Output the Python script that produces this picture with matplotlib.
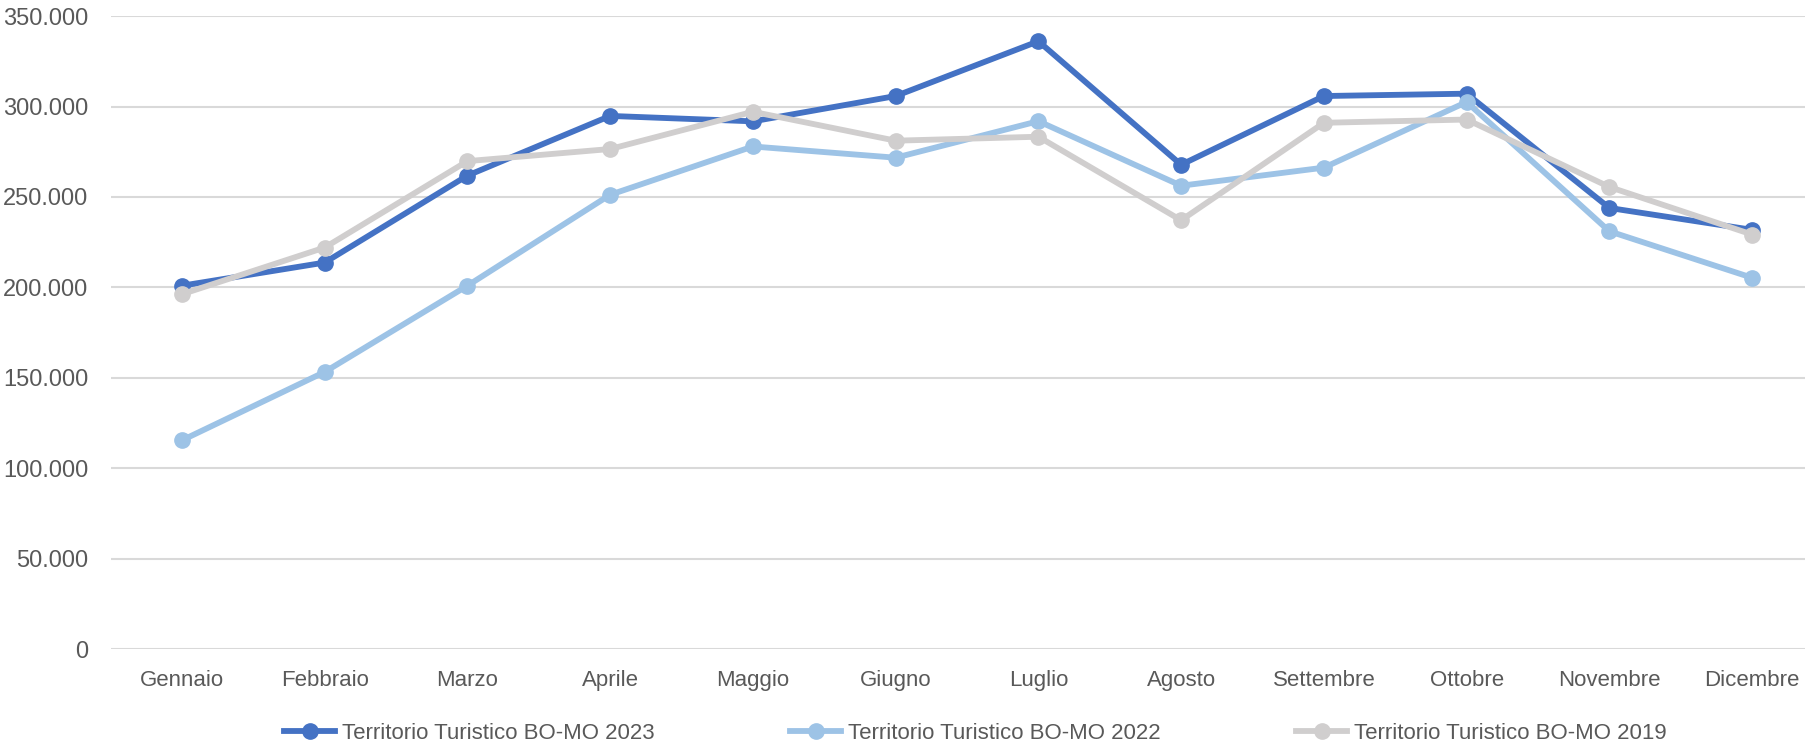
import matplotlib

matplotlib.use("Agg")
import matplotlib.pyplot as plt
from matplotlib.ticker import FuncFormatter

months = ["Gennaio", "Febbraio", "Marzo", "Aprile", "Maggio", "Giugno",
          "Luglio", "Agosto", "Settembre", "Ottobre", "Novembre", "Dicembre"]

bomo_2023 = [200900, 213700, 261800, 294800, 291800, 305800,
             336100, 267800, 305800, 307100, 243900, 231800]
bomo_2022 = [115400, 153200, 200900, 251200, 277900, 271700,
             291900, 256200, 266200, 302500, 231000, 205300]
bomo_2019 = [196200, 222000, 269800, 276500, 297100, 281100,
             283300, 237100, 291000, 292800, 255500, 229200]

series = [
    ("Territorio Turistico BO-MO 2023", bomo_2023, "#4472C4"),
    ("Territorio Turistico BO-MO 2022", bomo_2022, "#9DC3E6"),
    ("Territorio Turistico BO-MO 2019", bomo_2019, "#D0CECE"),
]

plt.rcParams["font.family"] = ["Liberation Sans", "DejaVu Sans"]
text_color = "#595959"

fig = plt.figure(figsize=(18.06, 7.49), dpi=100)
# the plot area runs a little past the right edge, as in the reference
ax = fig.add_axes([0.0612, 0.1335, 0.9485, 0.845])

x = list(range(len(months)))
for label, values, color in series:
    ax.plot(x, values, color=color, linewidth=4.2, marker="o",
            markersize=11, label=label, solid_joinstyle="round")

ax.set_xlim(-0.5, len(months) - 0.5)
ax.set_ylim(0, 350000)
ax.set_yticks(range(0, 350001, 50000))
ax.yaxis.set_major_formatter(
    FuncFormatter(lambda v, _: "0" if v == 0 else f"{int(v):,}".replace(",", "."))
)
ax.set_xticks(x)
ax.set_xticklabels(months)
ax.tick_params(axis="both", length=0, colors=text_color)
ax.tick_params(axis="x", pad=15, labelsize=16)
ax.tick_params(axis="y", pad=16, labelsize=17)
ax.grid(axis="y", color="#D9D9D9", linewidth=1.5)
ax.set_axisbelow(True)
for spine in ax.spines.values():
    spine.set_visible(False)

fig.legend(
    loc="lower center",
    bbox_to_anchor=(0.54, -0.02),
    ncol=3,
    frameon=False,
    fontsize=16,
    labelcolor=text_color,
    handlelength=2.3,
    handletextpad=0.3,
    columnspacing=6.1,
)

fig.savefig("out.png", dpi=100)
